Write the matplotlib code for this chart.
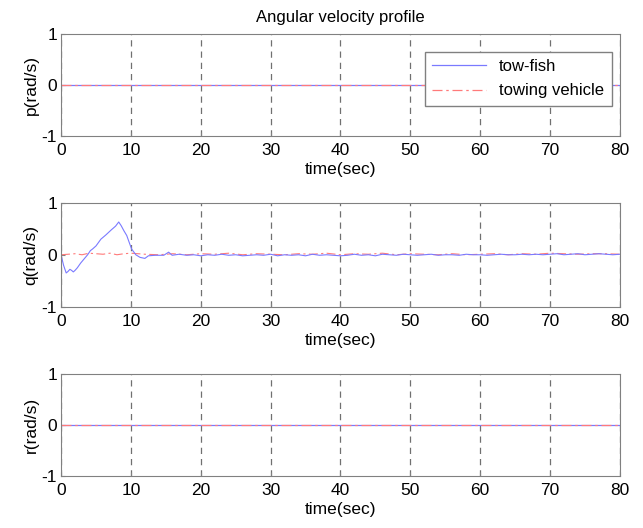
import numpy as np
import matplotlib.pyplot as plt

# time axis and readings (rad/s)
t_fish = [0, 0.35, 0.73, 1.0, 1.26, 1.5, 1.75, 2.0, 2.33, 2.8, 3.3, 3.8, 4.2, 4.5, 5.0,
          5.7, 6.4, 7.2, 7.8, 8.25, 8.6, 9.0, 9.4, 9.8, 10.1, 10.7, 11.3, 12.0, 12.5,
          13.5, 14.7, 15.4, 15.9, 16.9, 18, 19, 20, 21, 22, 23, 24, 25, 26, 27, 28,
          29, 30, 31, 32, 33, 34, 35, 36, 37, 38, 39, 40, 41, 42, 43, 44, 45, 46, 47,
          48, 49, 50, 51, 52, 53, 54, 55, 56, 57, 58, 59, 60, 61, 62, 63, 64, 65, 66,
          67, 68, 69, 70, 71, 72, 73, 74, 75, 76, 77, 78, 79, 80]
q_fish = [0, -0.2, -0.35, -0.32, -0.28, -0.3, -0.33, -0.3, -0.25, -0.16, -0.08, 0.0,
          0.08, 0.11, 0.17, 0.30, 0.38, 0.48, 0.55, 0.63, 0.56, 0.46, 0.37, 0.22, 0.11,
          0.0, -0.05, -0.07, -0.02, -0.01, -0.01, 0.05, -0.01, 0.01, -0.01, 0.0, -0.02,
          0.0, -0.01, 0.01, -0.01, 0.0, -0.02, -0.01, 0.0, -0.01, 0.01, -0.02, 0.0,
          -0.01, 0.0, -0.02, 0.01, -0.01, 0.0, -0.01, -0.02, -0.01, 0.01, -0.01, 0.0,
          -0.02, 0.01, 0.0, -0.01, 0.01, 0.0, -0.01, 0.0, 0.01, -0.01, 0.0, 0.0, -0.01,
          0.01, 0.0, 0.0, -0.01, 0.0, 0.01, 0.0, 0.0, 0.01, 0.0, 0.01, 0.0, 0.01, 0.02,
          0.0, 0.01, 0.02, 0.0, 0.01, 0.02, 0.01, 0.0, 0.01]
t_veh = [0, 2, 3, 4, 6, 7, 8, 9, 10, 12, 14, 16, 18, 20, 22, 24, 26, 28, 30, 32, 34,
         36, 38, 40, 42, 44, 46, 48, 50, 52, 54, 56, 58, 60, 62, 64, 66, 68, 70, 72,
         74, 76, 78, 80]
q_veh = [0, 0.02, 0.0, 0.03, 0.01, 0.03, 0.0, 0.02, 0.03, 0.01, 0.0, 0.02, 0.0, 0.02,
         0.01, 0.03, 0.0, 0.02, 0.01, 0.0, 0.02, 0.01, 0.03, 0.0, 0.02, 0.01, 0.03,
         0.0, 0.02, 0.01, 0.0, 0.02, 0.0, 0.01, 0.02, 0.0, 0.02, 0.01, 0.03, 0.02,
         0.01, 0.02, 0.02, 0.01]
t_flat = [0, 80]
zero_flat = [0, 0]

labels = ["p(rad/s)", "q(rad/s)", "r(rad/s)"]
xticks = [0, 10, 20, 30, 40, 50, 60, 70, 80]

plt.rcParams["font.family"] = ["Liberation Sans", "DejaVu Sans"]
plt.rcParams["font.size"] = 12.5

fig = plt.figure(figsize=(6.43, 5.28), dpi=100)
bottoms = [0.742, 0.419, 0.0985]
heights = [0.193, 0.197, 0.193]

blue = "#7a7aff"
red = "#ff7a7a"

for i, lab in enumerate(labels):
    ax = fig.add_axes([0.095, bottoms[i], 0.869, heights[i]])
    if i == 1:
        ax.plot(t_veh, q_veh, color=red, lw=0.8, ls=(0, (8, 3, 2, 3)))
        ax.plot(t_fish, q_fish, color=blue, lw=0.8)
    else:
        ax.plot(t_flat, zero_flat, color=blue, lw=0.9, label="tow-fish")
        ax.plot(t_flat, zero_flat, color=red, lw=0.9, ls=(0, (8, 3, 2, 3)),
                label="towing vehicle")
    ax.set_xlim(0, 80)
    ax.set_ylim(-1, 1)
    ax.set_xticks(xticks)
    ax.set_yticks([-1, 0, 1])
    ax.set_yticklabels(["-1", "0", "1"])
    ax.xaxis.grid(True, linestyle=(0, (5, 4)), color="#707070", lw=0.9)
    ax.tick_params(direction="in", length=3, color="#808080", pad=3)
    ax.tick_params(axis="x", pad=5)
    for s in ax.spines.values():
        s.set_color("#808080")
    ax.set_ylabel(lab, labelpad=2)
    ax.set_xlabel("time(sec)", labelpad=3)
    if i == 0:
        ax.set_title("Angular velocity profile", fontsize=12, pad=9)
        leg = ax.legend(loc="upper right", bbox_to_anchor=(1.0, 0.91),
                        handlelength=3.2, fancybox=False, framealpha=1,
                        edgecolor="#808080", borderpad=0.45, labelspacing=0.55,
                        fontsize=12)

fig.savefig("out.png", dpi=100)
